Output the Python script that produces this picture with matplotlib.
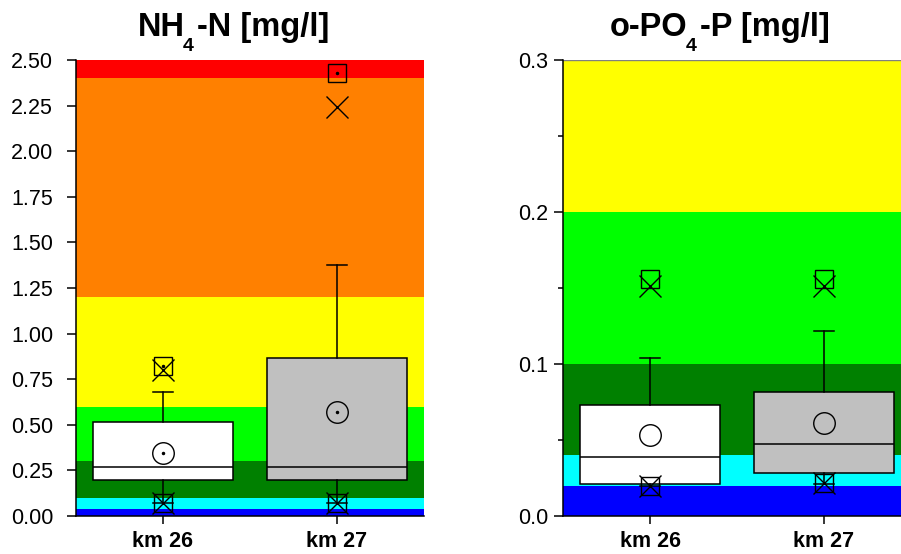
import matplotlib
matplotlib.use("Agg")
import matplotlib.pyplot as plt
from matplotlib.ticker import MultipleLocator, FormatStrFormatter

plt.rcParams['font.family'] = ['Liberation Sans', 'DejaVu Sans']

sites = ["km 26", "km 27"]
box_fill = ["white", "#c0c0c0"]

# NH4-N [mg/l]
nh4_q1 = [0.20, 0.20]
nh4_med = [0.27, 0.27]
nh4_q3 = [0.515, 0.865]
nh4_mean = [0.347, 0.572]
nh4_whislo = [0.07, 0.07]
nh4_whishi = [0.68, 1.375]
nh4_p99 = [0.80, 2.245]
nh4_p01 = [0.07, 0.07]
nh4_max = [0.823, 2.426]
nh4_min = [0.07, 0.07]
nh4_class_edges = [0.0, 0.04, 0.10, 0.30, 0.60, 1.20, 2.40, 2.50]

# o-PO4-P [mg/l]
po4_q1 = [0.021, 0.0285]
po4_med = [0.039, 0.0474]
po4_q3 = [0.073, 0.0818]
po4_mean = [0.053, 0.061]
po4_whislo = [0.020, 0.021]
po4_whishi = [0.104, 0.122]
po4_p99 = [0.151, 0.151]
po4_p01 = [0.0198, 0.0215]
po4_max = [0.1558, 0.1558]
po4_min = [0.0199, 0.0215]
po4_class_edges = [0.0, 0.02, 0.04, 0.10, 0.20, 0.30]

nh4_class_colors = ["#0000ff", "#00ffff", "#008000", "#00ff00", "#ffff00", "#ff8000", "#ff0000"]
po4_class_colors = ["#0000ff", "#00ffff", "#008000", "#00ff00", "#ffff00"]

nh4_title = ["NH", "4", "-N [mg/l]"]
po4_title = ["o-PO", "4", "-P [mg/l]"]

W, H = 901, 554
fig = plt.figure(figsize=(W / 100, H / 100), dpi=100)

ax1 = fig.add_axes([76 / W, (H - 516) / H, 348 / W, 456 / H])
ax2 = fig.add_axes([563 / W, (H - 516) / H, 348 / W, 456 / H])


def draw_panel(ax, edges, colors, q1, med, q3, mean, wlo, whi, p99, p01, vmax, vmin, dots):
    for lo, hi, c in zip(edges[:-1], edges[1:], colors):
        ax.axhspan(lo, hi, color=c, lw=0, zorder=0)
    pos = [1, 2]
    stats = []
    for i, name in enumerate(sites):
        stats.append(dict(label=name, q1=q1[i], med=med[i], q3=q3[i],
                          mean=mean[i], whislo=wlo[i], whishi=whi[i], fliers=[]))
    bp = ax.bxp(stats, positions=pos, widths=0.8, patch_artist=True,
                showmeans=False, showfliers=False, capwidths=0.11,
                boxprops=dict(edgecolor="black", linewidth=1.1),
                medianprops=dict(color="black", linewidth=1.1),
                whiskerprops=dict(color="black", linewidth=1.1),
                capprops=dict(color="black", linewidth=1.1),
                zorder=3)
    for patch, fc in zip(bp["boxes"], box_fill):
        patch.set_facecolor(fc)
    mk = dict(linestyle="none", markerfacecolor="none", markeredgecolor="black",
              markeredgewidth=1.0, zorder=5, clip_on=False)
    ax.plot(pos, mean, marker="o", markersize=15.5, **mk)
    ax.plot(pos, p99, marker="x", markersize=16, **mk)
    ax.plot(pos, p01, marker="x", markersize=16, **mk)
    ax.plot(pos, vmax, marker="s", markersize=13, **mk)
    ax.plot(pos, vmin, marker="s", markersize=13, **mk)
    if dots:
        ax.plot(pos, mean, linestyle="none", marker="o", markersize=1.5,
                color="black", zorder=6)
        ax.plot(pos, vmax, linestyle="none", marker="o", markersize=1.5,
                color="black", zorder=6)

    ax.set_xlim(0.5, 2.5)
    ax.set_xticks(pos)
    ax.set_xticklabels(sites, fontsize=15.5, fontweight="bold")
    for s in ("top", "right"):
        ax.spines[s].set_visible(False)
    for s in ("left", "bottom"):
        ax.spines[s].set_linewidth(1.1)
        ax.spines[s].set_zorder(7)
    ax.tick_params(axis="x", direction="out", length=6, width=1.1, pad=5)
    ax.tick_params(axis="y", which="major", direction="out", length=6.5, width=1.1,
                   labelsize=15.5)
    ax.tick_params(axis="y", which="minor", direction="out", length=3.3, width=1.1)


draw_panel(ax1, nh4_class_edges, nh4_class_colors, nh4_q1, nh4_med, nh4_q3, nh4_mean,
           nh4_whislo, nh4_whishi, nh4_p99, nh4_p01, nh4_max, nh4_min, True)
ax1.set_ylim(0, 2.5)
ax1.yaxis.set_major_locator(MultipleLocator(0.25))
ax1.yaxis.set_major_formatter(FormatStrFormatter("%.2f"))
ax1.tick_params(axis="y", which="major", pad=10)

draw_panel(ax2, po4_class_edges, po4_class_colors, po4_q1, po4_med, po4_q3, po4_mean,
           po4_whislo, po4_whishi, po4_p99, po4_p01, po4_max, po4_min, False)
ax2.set_ylim(0, 0.3)
ax2.yaxis.set_major_locator(MultipleLocator(0.1))
ax2.yaxis.set_minor_locator(MultipleLocator(0.05))
ax2.yaxis.set_major_formatter(FormatStrFormatter("%.1f"))
ax2.tick_params(axis="y", which="major", pad=4)
ax2.axhline(0.3, color="#808080", lw=1.0, zorder=6)


def title_with_subscript(parts, x_px, base_px):
    """Place a bold title made of text, a lowered subscript and more text."""
    renderer = fig.canvas.get_renderer()
    tfont = dict(family="Liberation Sans", fontweight="bold")
    x = x_px
    sizes = [23.5, 14, 23.5]
    drops = [0, 15, 0]
    kerns = [-2, 3, 0]
    for txt, fs, dy, kern in zip(parts, sizes, drops, kerns):
        t = fig.text(x / W, 1 - (base_px + dy) / H, txt, ha="left", va="baseline",
                     fontsize=fs, **tfont)
        bb = t.get_window_extent(renderer=renderer)
        x += bb.width + kern


title_with_subscript(nh4_title, 138, 36)
title_with_subscript(po4_title, 610, 36)

fig.savefig("out.png", dpi=100)
